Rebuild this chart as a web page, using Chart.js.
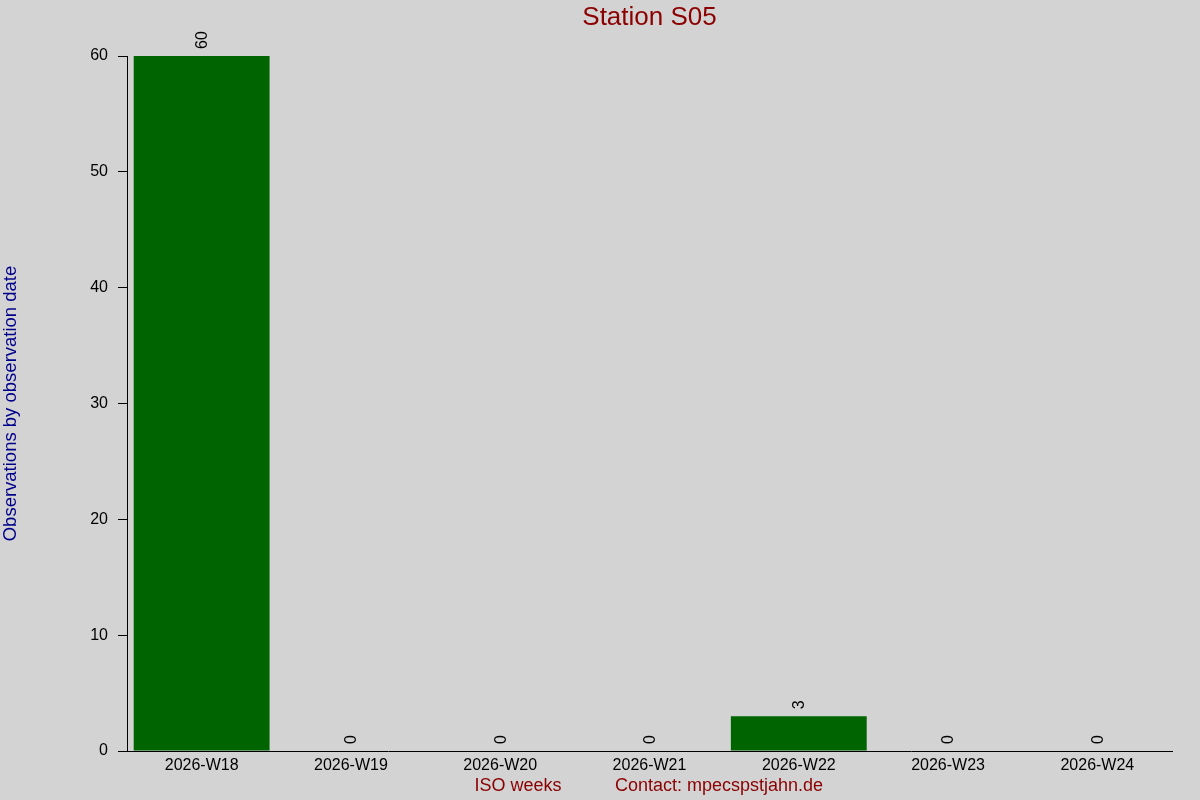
<!DOCTYPE html>
<html>
<head>
<meta charset="utf-8">
<title>Station S05</title>
<script src="https://cdn.jsdelivr.net/npm/chart.js@4/dist/chart.umd.min.js"></script>
<style>
  body { margin: 0; background: #d3d3d3; }
  #wrap { width: 1200px; height: 800px; }
</style>
</head>
<body>
<div id="wrap"><canvas id="weekChart" width="1200" height="800"></canvas></div>
<script>
// chart data
var weeks = ['2026-W18', '2026-W19', '2026-W20', '2026-W21', '2026-W22', '2026-W23', '2026-W24'];
var observations = [60, 0, 0, 0, 3, 0, 0];
var yTicks = [0, 10, 20, 30, 40, 50, 60];

var titleText = 'Station S05';
var yTitle = 'Observations by observation date';
var xTitle = 'ISO weeks';
var contactText = 'Contact: mpecspstjahn.de';

var fontName = '"Liberation Sans", Arial, sans-serif';

// draws the rotated value labels and the titles around the plot
var labelsPlugin = {
  id: 'labelsPlugin',
  afterDraw: function(chart) {
    var ctx = chart.ctx;
    var area = chart.chartArea;
    var meta = chart.getDatasetMeta(0);

    ctx.save();
    ctx.fillStyle = '#000';
    ctx.font = '16px ' + fontName;
    ctx.textAlign = 'left';
    ctx.textBaseline = 'middle';
    meta.data.forEach(function(bar, i) {
      ctx.save();
      ctx.translate(bar.x + 1, bar.y - 7);
      ctx.rotate(-Math.PI / 2);
      ctx.fillText(String(observations[i]), 0, 0);
      ctx.restore();
    });

    var midX = (area.left + area.right) / 2;
    var midY = (area.top + area.bottom) / 2;

    ctx.fillStyle = '#8b0000';
    ctx.font = '26px ' + fontName;
    ctx.textAlign = 'center';
    ctx.fillText(titleText, midX, 18);

    ctx.font = '18px ' + fontName;
    ctx.fillText(xTitle, 518, 786);
    ctx.fillText(contactText, 719, 786);

    ctx.fillStyle = '#00008b';
    ctx.font = '18.5px ' + fontName;
    ctx.translate(11, midY);
    ctx.rotate(-Math.PI / 2);
    ctx.fillText(yTitle, 0, 0);
    ctx.restore();
  }
};

var ctx = document.getElementById('weekChart').getContext('2d');
new Chart(ctx, {
  type: 'bar',
  data: {
    labels: weeks,
    datasets: [{
      data: observations,
      backgroundColor: '#006400',
      borderWidth: 0,
      categoryPercentage: 1.0,
      barPercentage: 0.91
    }]
  },
  options: {
    responsive: false,
    animation: false,
    layout: { padding: { top: 56, right: 28, left: 0, bottom: 0 } },
    plugins: {
      legend: { display: false },
      tooltip: { enabled: false },
      title: { display: false }
    },
    scales: {
      x: {
        grid: { display: false },
        border: { display: true, color: '#000', width: 1 },
        ticks: { color: '#000', font: { size: 16, family: fontName }, padding: -3, maxRotation: 0 },
        afterFit: function(scale) { scale.height = 49; }
      },
      y: {
        min: 0,
        max: 60,
        afterBuildTicks: function(scale) {
          scale.ticks = yTicks.map(function(v) { return { value: v }; });
        },
        grid: { drawOnChartArea: false, drawTicks: true, tickLength: 9, color: '#000' },
        border: { display: true, color: '#000', width: 1 },
        ticks: { color: '#000', font: { size: 16, family: fontName }, padding: 10 },
        afterFit: function(scale) { scale.width = 127; }
      }
    }
  },
  plugins: [labelsPlugin]
});
</script>
</body>
</html>
